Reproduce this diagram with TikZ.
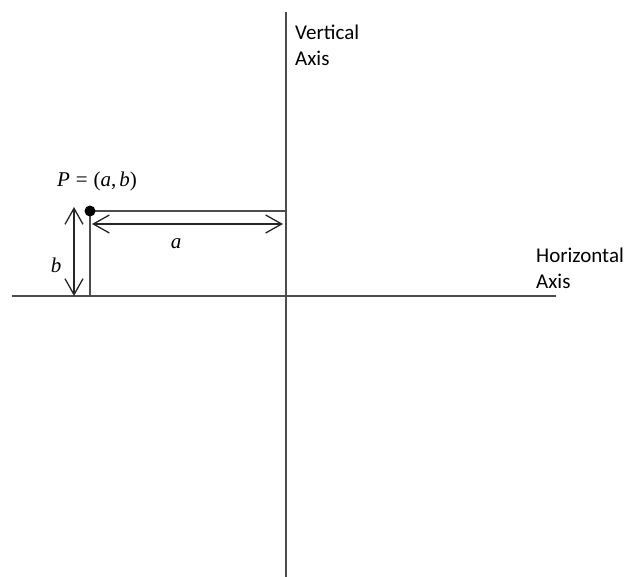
\documentclass[tikz,border=0pt]{standalone}
\usepackage{fontspec}
\setmainfont{Carlito}
\newfontfamily\mathlike{Liberation Serif}
\usetikzlibrary{arrows.meta}
\newcommand{\mv}[1]{\textit{#1}}
\begin{document}
\begin{tikzpicture}[x=1pt,y=-1pt,
  axis/.style={draw=black!70,line width=1.6pt},
  guide/.style={draw=black!70,line width=1.6pt},
  dimarrow/.style={draw=black!85,line width=1.3pt,{Straight Barb[length=16pt,width=18pt,line width=1.3pt]}-{Straight Barb[length=16pt,width=18pt,line width=1.3pt]}},
  lbl/.style={font=\fontsize{21}{26}\selectfont,align=left,inner sep=0pt},
  mlbl/.style={font=\mathlike\fontsize{21}{25}\selectfont,inner sep=0pt}]
\useasboundingbox (0,0) rectangle (628,577);
% axes
\coordinate (hl) at (12,296);
\coordinate (hr) at (556,296);
\coordinate (vt) at (286,12);
\coordinate (vb) at (286,577);
\draw[axis] (hl) -- (hr);
\draw[axis] (vt) -- (vb);
% point and projections
\coordinate (P) at (90,211);
\coordinate (Py) at (286,211);
\coordinate (Px) at (90,296);
\draw[guide] (P) -- (Py);
\draw[guide] (P) -- (Px);
\fill[black] (P) circle (5.5pt);
% dimension arrows
\coordinate (a1) at (92,224);
\coordinate (a2) at (283,224);
\draw[dimarrow] (a1) -- (a2);
\coordinate (b1) at (74,207);
\coordinate (b2) at (74,296);
\draw[dimarrow] (b1) -- (b2);
% labels
\node[mlbl] (plbl) at (97,181) {\mv{P}\hspace{6pt}=\hspace{6pt}(\mv{a},\hspace{3pt}\mv{b})};
\node[mlbl] (albl) at (176,244) {\mv{a}};
\node[mlbl] (blbl) at (56,265) {\mv{b}};
\node[lbl,anchor=north west] (vlbl) at (295,25) {Vertical\\Axis};
\node[lbl,anchor=north west] (hlbl) at (536,248) {Horizontal\\Axis};
\end{tikzpicture}
\end{document}
